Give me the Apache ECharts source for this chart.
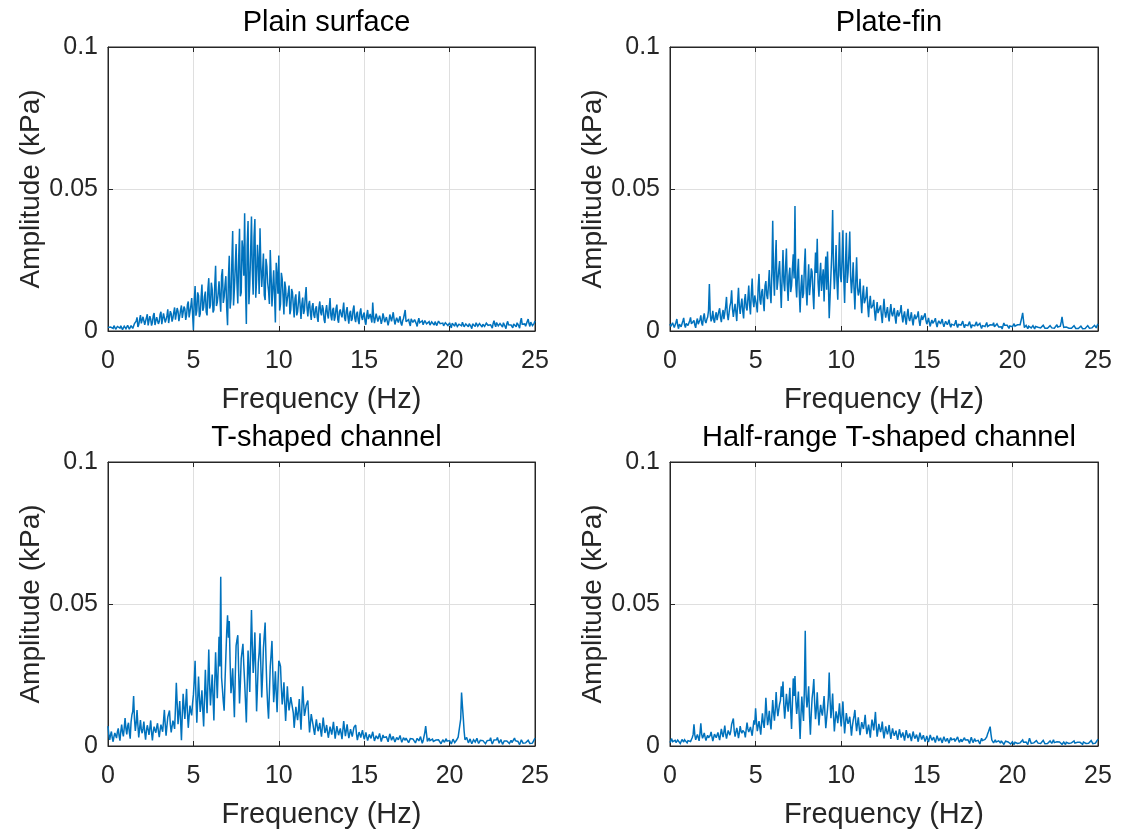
<!DOCTYPE html>
<html>
<head>
<meta charset="utf-8">
<title>Pressure amplitude spectra</title>
<script src="https://cdn.jsdelivr.net/npm/echarts@6/dist/echarts.min.js"></script>
<style>
  html, body { margin: 0; padding: 0; background: #fff; }
  #chart { width: 1121px; height: 834px; }
</style>
</head>
<body>
<div id="chart"></div>
<script>
// frequency grid: 0 .. 25 Hz. main arrays sit on 0, 0.1, 0.2 ... Hz,
// the *Mid arrays on the half steps 0.05, 0.15 ... Hz
var freqStep = 0.1;
var xTicks = [0, 5, 10, 15, 20, 25];
var yTicks = [0, 0.05, 0.1];
var panelTitles = ['Plain surface', 'Plate-fin', 'T-shaped channel', 'Half-range T-shaped channel'];

// amplitudes, in Pa (1 Pa = 0.001 kPa)
var plainSurface = [
  1.2, 0.6, 1.8, 0.9, 1.5, 0.7, 2.1, 1.0, 1.6, 0.8,
  2.2, 1.1, 1.7, 0.9, 2.4, 1.3, 2.0, 4.8, 2.2, 5.6,
  3.1, 4.4, 1.8, 5.9, 2.6, 4.2, 3.0, 6.3, 2.4, 5.1,
  3.3, 6.8, 2.9, 5.5, 4.0, 7.6, 3.2, 6.1, 4.5, 8.3,
  3.8, 6.9, 5.2, 9.0, 4.1, 7.8, 5.6, 10.4, 4.9, 11.6,
  0.4, 15.8, 7.2, 12.5, 6.0, 16.4, 8.3, 13.9, 5.5, 18.6,
  9.1, 14.7, 7.4, 23.0, 10.2, 17.5, 6.8, 21.8, 12.0, 19.3,
  2.0, 26.5, 11.4, 35.2, 14.8, 30.6, 9.7, 36.0, 13.5, 28.4,
  41.5, 2.5, 38.7, 16.2, 40.3, 12.8, 39.4, 18.0, 24.6, 36.2,
  15.5, 27.3, 10.9, 22.8, 14.1, 28.5, 8.6, 21.4, 3.0, 19.7,
  26.6, 9.4, 18.3, 5.8, 15.1, 11.2, 16.0, 7.5, 13.6, 4.8,
  12.9, 6.7, 14.0, 4.2, 11.8, 7.3, 15.5, 5.1, 10.6, 3.9,
  9.8, 4.6, 8.7, 3.2, 10.4, 5.5, 7.9, 2.8, 9.1, 4.4,
  11.6, 3.7, 8.2, 5.0, 9.3, 2.9, 7.6, 4.8, 10.0, 3.5,
  8.4, 2.6, 7.1, 4.3, 9.0, 3.1, 6.8, 2.4, 8.0, 3.9,
  6.5, 2.2, 7.4, 3.6, 5.9, 10.0, 2.8, 6.1, 3.3, 5.4,
  2.5, 6.2, 3.1, 4.9, 2.0, 5.8, 3.4, 6.6, 2.3, 4.7,
  3.0, 5.2, 1.9, 4.4, 7.4, 2.6, 4.0, 1.8, 5.0, 2.9,
  3.8, 1.6, 4.5, 2.4, 3.6, 1.5, 4.2, 2.7, 3.3, 1.4,
  3.9, 2.1, 3.0, 1.3, 4.1, 2.2, 2.8, 1.2, 3.5, 1.9,
  2.9, 1.1, 3.4, 1.7, 2.6, 0.9, 3.1, 1.8, 2.4, 1.0,
  3.2, 1.5, 2.7, 0.8, 3.0, 1.6, 2.3, 1.1, 3.3, 1.4,
  2.5, 0.9, 3.1, 1.7, 2.2, 1.0, 3.6, 1.5, 2.6, 1.2,
  3.0, 1.4, 2.4, 0.8, 3.4, 1.6, 2.1, 1.1, 3.2, 1.5,
  2.7, 1.0, 4.5, 1.8, 2.5, 1.2, 4.2, 1.6, 2.8, 1.3,
  3.5
];
var plainSurfaceMid = [
  0.5, 1.4, 0.7, 1.9, 0.6, 1.6, 0.9, 1.8, 0.5, 1.7,
  0.8, 2.0, 0.6, 1.9, 0.9, 2.6, 3.5, 1.4, 4.0, 2.7,
  5.0, 2.2, 4.7, 2.0, 5.2, 1.9, 5.4, 2.1, 4.9, 2.5,
  5.8, 2.4, 6.2, 3.0, 5.3, 2.8, 7.0, 3.3, 6.6, 4.0,
  8.1, 3.5, 7.4, 4.6, 8.6, 3.9, 9.2, 4.8, 8.8, 6.3,
  10.7, 5.4, 13.6, 4.9, 11.8, 7.1, 12.2, 6.7, 14.9, 7.9,
  17.0, 6.5, 15.9, 8.8, 13.2, 11.6, 19.4, 9.9, 16.1, 8.0,
  18.7, 7.9, 24.2, 9.0, 22.5, 16.8, 25.1, 12.2, 31.9, 19.5,
  15.8, 30.2, 9.4, 27.5, 21.3, 33.1, 11.7, 30.4, 13.0, 22.9,
  21.0, 12.6, 25.4, 16.8, 9.5, 19.2, 15.0, 12.8, 24.0, 13.1,
  7.2, 20.5, 12.0, 17.4, 8.6, 13.3, 5.9, 14.8, 8.9, 11.5,
  5.5, 10.2, 8.8, 9.5, 6.0, 12.1, 8.2, 9.3, 6.4, 8.6,
  5.7, 7.8, 4.9, 8.3, 6.6, 9.1, 4.0, 7.2, 5.9, 8.0,
  5.4, 7.4, 3.6, 7.9, 4.1, 6.8, 5.8, 7.3, 4.6, 6.9,
  4.8, 6.3, 3.5, 7.5, 4.4, 6.0, 3.7, 6.5, 4.9, 5.7,
  3.4, 5.6, 4.2, 6.0, 3.0, 5.1, 4.5, 5.8, 3.2, 4.3,
  3.9, 4.8, 2.7, 5.3, 3.5, 4.6, 2.8, 4.1, 3.6, 3.8,
  4.2, 2.8, 3.6, 5.1, 3.3, 3.9, 2.7, 4.3, 3.0, 4.0,
  2.6, 3.4, 2.9, 3.1, 2.2, 3.7, 2.5, 3.0, 2.1, 3.2,
  2.7, 3.3, 1.9, 3.5, 2.6, 3.1, 1.8, 2.9, 2.4, 2.6,
  1.9, 2.7, 2.2, 3.0, 1.6, 2.4, 2.2, 3.1, 1.5, 2.5,
  2.0, 2.6, 1.6, 2.5, 2.1, 2.9, 1.7, 2.6, 2.2, 2.4,
  1.6, 2.8, 2.0, 2.5, 1.5, 2.7, 2.3, 3.0, 1.8, 2.6,
  2.1, 2.9, 1.6, 2.6, 2.2, 2.8, 1.5, 2.5, 2.1, 2.9,
  1.8, 3.3, 2.4, 3.0, 1.7, 3.4, 2.6, 3.1, 1.9, 2.7
];

var plateFin = [
  2.5, 1.0, 3.6, 1.4, 4.2, 0.8, 3.0, 1.7, 4.6, 1.2,
  3.3, 1.5, 4.8, 2.0, 3.7, 1.1, 4.4, 2.3, 5.5, 1.9,
  6.2, 2.8, 4.9, 16.5, 3.4, 7.1, 2.9, 6.6, 4.0, 8.0,
  3.1, 7.4, 4.6, 12.0, 3.8, 8.8, 14.3, 5.0, 9.6, 3.5,
  15.2, 6.0, 11.4, 4.4, 13.0, 7.2, 16.0, 5.8, 18.5, 8.4,
  12.6, 6.5, 20.1, 9.3, 14.8, 7.0, 17.6, 11.2, 21.5, 9.8,
  38.8, 12.4, 32.0, 17.5, 24.6, 8.1, 28.5, 14.0, 29.0, 10.6,
  22.3, 15.9, 27.0, 44.0, 11.8, 25.4, 6.5, 19.8, 13.2, 29.0,
  9.0, 23.5, 16.4, 20.8, 7.7, 27.6, 32.5, 12.1, 24.0, 18.3,
  10.4, 26.2, 28.0, 4.5, 19.6, 42.6, 14.7, 30.3, 11.0, 34.8,
  17.2, 35.5, 9.9, 34.6, 20.5, 35.0, 13.3, 24.2, 7.6, 26.0,
  12.5, 18.4, 6.3, 16.0, 10.8, 15.6, 4.9, 12.4, 7.8, 11.0,
  3.6, 10.2, 5.9, 9.0, 2.8, 11.3, 4.7, 8.4, 3.4, 9.5,
  5.2, 8.1, 2.6, 7.3, 4.4, 9.1, 3.0, 6.9, 2.2, 7.8,
  3.5, 6.6, 2.0, 5.8, 3.9, 6.9, 1.8, 5.5, 3.2, 6.2,
  2.4, 4.6, 1.6, 3.9, 2.8, 4.5, 1.4, 3.6, 2.5, 4.2,
  1.5, 3.4, 2.2, 4.0, 1.3, 3.1, 2.0, 3.8, 1.2, 2.9,
  2.1, 3.5, 1.1, 2.8, 1.9, 3.3, 1.0, 2.6, 1.8, 3.2,
  1.2, 2.7, 0.9, 2.4, 1.6, 3.0, 1.0, 2.2, 1.5, 2.9,
  0.8, 2.5, 1.4, 2.1, 0.7, 2.8, 1.3, 2.0, 0.9, 2.4,
  1.5, 2.6, 1.0, 2.2, 1.8, 2.5, 6.4, 1.2, 2.0, 0.8,
  2.3, 1.1, 1.9, 0.7, 2.1, 1.3, 1.6, 0.6, 2.0, 1.0,
  1.5, 0.5, 1.9, 1.1, 1.4, 0.6, 2.2, 1.0, 1.7, 5.0,
  1.3, 0.7, 1.8, 1.0, 1.5, 0.5, 1.9, 0.9, 1.4, 0.6,
  1.7, 0.8, 1.3, 0.5, 1.9, 1.0, 1.5, 0.7, 2.0, 1.1,
  2.5
];
var plateFinMid = [
  1.6, 2.9, 1.2, 3.1, 2.0, 2.4, 1.5, 3.5, 2.2, 2.7,
  1.9, 3.6, 2.5, 3.0, 2.1, 3.3, 2.4, 4.0, 2.8, 4.7,
  3.6, 4.1, 7.2, 6.0, 4.5, 3.9, 5.3, 3.8, 6.9, 4.7,
  5.8, 4.2, 8.6, 5.9, 6.4, 10.1, 7.8, 7.3, 6.5, 9.9,
  8.7, 9.2, 7.0, 10.5, 8.3, 11.4, 9.0, 13.3, 10.6, 12.5,
  9.2, 15.4, 11.0, 13.7, 10.3, 15.9, 12.6, 16.3, 13.4, 20.7,
  19.6, 24.0, 14.5, 21.3, 15.8, 18.9, 17.2, 22.6, 16.3, 19.4,
  13.7, 21.9, 18.5, 16.4, 20.3, 13.9, 15.2, 11.6, 22.7, 15.0,
  17.1, 12.6, 22.0, 13.5, 18.9, 20.4, 17.0, 19.5, 14.1, 21.7,
  19.8, 14.5, 17.3, 12.0, 27.4, 23.1, 21.5, 17.8, 22.9, 19.6,
  25.1, 18.7, 23.0, 16.9, 26.8, 19.2, 18.0, 14.9, 17.5, 15.4,
  14.0, 11.3, 12.6, 9.8, 12.2, 8.7, 9.9, 8.0, 9.1, 6.8,
  7.4, 6.3, 8.1, 5.6, 7.5, 6.9, 6.7, 5.5, 7.0, 6.1,
  5.9, 4.8, 6.2, 5.1, 6.8, 5.3, 5.4, 4.1, 5.7, 4.6,
  5.0, 3.8, 4.6, 4.2, 5.3, 3.6, 4.0, 3.9, 4.5, 3.7,
  3.4, 2.9, 3.0, 2.7, 3.6, 2.6, 2.8, 2.9, 3.2, 2.5,
  2.6, 2.9, 3.0, 2.2, 2.4, 2.7, 2.8, 2.1, 2.3, 2.6,
  2.8, 2.0, 2.2, 2.4, 2.6, 1.9, 2.1, 2.3, 2.5, 1.8,
  2.0, 1.7, 1.9, 2.1, 2.2, 1.6, 1.8, 2.0, 2.1, 1.5,
  1.7, 1.9, 1.6, 1.5, 1.8, 2.0, 1.5, 1.4, 1.8, 1.9,
  2.0, 1.7, 1.6, 2.0, 2.2, 4.8, 3.6, 1.6, 1.3, 1.7,
  1.5, 1.4, 1.2, 1.6, 1.7, 1.3, 1.1, 1.5, 1.4, 1.2,
  1.0, 1.3, 1.5, 1.2, 1.0, 1.6, 1.4, 1.3, 3.2, 2.7,
  1.1, 1.4, 1.3, 1.2, 1.0, 1.4, 1.3, 1.1, 0.9, 1.2,
  1.2, 1.0, 0.9, 1.3, 1.4, 1.2, 1.1, 1.4, 1.5, 1.9
];

var tShaped = [
  7.0, 2.2, 5.1, 1.5, 4.6, 2.8, 6.2, 1.9, 7.5, 3.4,
  9.8, 4.1, 8.2, 2.6, 11.0, 17.6, 5.3, 12.7, 3.0, 9.1,
  4.5, 8.6, 2.2, 7.3, 3.9, 9.0, 2.0, 6.8, 4.7, 8.0,
  3.1, 7.5, 5.0, 12.7, 3.6, 10.2, 12.5, 4.8, 8.9, 6.0,
  22.3, 7.7, 15.8, 2.0, 18.4, 9.5, 20.1, 6.4, 14.2, 10.8,
  18.0, 30.0, 8.2, 24.5, 12.0, 19.6, 6.9, 26.8, 11.5, 34.0,
  14.3, 25.2, 9.0, 33.0, 16.8, 38.5, 59.6, 20.0, 12.4, 31.5,
  46.0, 44.0, 18.6, 27.4, 10.1, 35.3, 39.0, 15.0, 30.8, 36.0,
  22.5, 8.3, 33.6, 19.0, 47.9, 25.7, 40.0, 12.2, 29.4, 39.7,
  17.1, 34.5, 43.5, 20.8, 9.6, 28.0, 37.0, 15.4, 26.3, 11.9,
  30.0, 28.0, 14.6, 22.4, 8.8, 21.0, 12.5, 17.2, 17.6, 6.4,
  13.8, 9.1, 16.5, 5.7, 21.0, 10.6, 14.3, 16.0, 4.8, 11.2,
  7.6, 3.9, 9.4, 5.2, 8.1, 3.3, 10.0, 4.6, 7.4, 2.9,
  6.8, 4.0, 8.5, 2.6, 7.0, 3.8, 6.2, 2.4, 8.8, 3.5,
  7.6, 2.8, 5.9, 3.3, 6.6, 7.4, 2.1, 4.9, 3.0, 5.6,
  2.4, 4.8, 1.9, 4.1, 2.7, 5.0, 1.8, 3.6, 2.5, 4.4,
  1.6, 3.9, 2.3, 3.2, 1.5, 4.3, 2.0, 3.4, 1.4, 3.0,
  2.2, 3.7, 1.3, 2.9, 2.0, 3.5, 1.2, 2.6, 1.9, 3.1,
  1.1, 2.7, 1.8, 3.3, 1.0, 2.5, 7.0, 1.6, 2.8, 1.2,
  2.4, 0.9, 2.1, 1.5, 2.9, 0.8, 2.2, 1.3, 2.6, 1.0,
  1.9, 0.7, 2.4, 1.2, 2.0, 3.1, 2.6, 18.8, 10.0, 2.2,
  3.0, 1.1, 2.5, 0.8, 2.2, 1.4, 2.7, 0.9, 2.0, 1.3,
  2.6, 0.8, 1.9, 1.2, 2.9, 0.7, 2.1, 1.5, 3.0, 1.0,
  2.3, 0.6, 1.8, 1.1, 2.5, 0.9, 2.0, 0.7, 2.8, 1.2,
  1.6, 0.5, 2.2, 1.0, 1.7, 0.6, 2.0, 0.9, 1.5, 0.7,
  2.8
];
var tShapedMid = [
  3.8, 4.0, 2.9, 3.3, 4.1, 5.0, 3.6, 5.2, 4.9, 6.4,
  6.1, 7.0, 4.9, 8.4, 12.2, 9.6, 8.0, 7.4, 6.1, 5.8,
  6.2, 4.9, 5.4, 5.8, 6.3, 4.8, 5.1, 5.5, 6.6, 5.2,
  5.6, 6.2, 8.8, 7.7, 7.0, 9.9, 7.6, 6.9, 7.8, 13.4,
  15.0, 11.6, 8.9, 11.2, 13.5, 14.8, 12.0, 10.7, 12.1, 14.9,
  23.1, 17.4, 16.2, 17.5, 15.3, 12.7, 16.8, 18.0, 22.3, 21.6,
  19.8, 17.1, 22.4, 24.5, 27.0, 28.0, 24.0, 15.7, 22.6, 40.2,
  38.1, 29.5, 22.1, 18.3, 24.2, 37.4, 26.3, 22.0, 33.4, 28.5,
  15.7, 21.0, 26.5, 33.8, 35.2, 31.4, 25.3, 20.6, 33.0, 27.9,
  24.6, 39.0, 30.7, 14.2, 18.8, 32.3, 25.8, 20.0, 18.5, 21.3,
  29.2, 20.4, 18.1, 15.0, 14.6, 16.0, 14.9, 17.4, 11.6, 10.0,
  11.2, 12.5, 10.8, 13.4, 15.6, 12.2, 15.0, 10.1, 8.0, 9.4,
  5.6, 7.1, 7.0, 6.5, 5.4, 6.8, 7.1, 5.7, 5.0, 4.8,
  5.5, 6.2, 5.4, 4.9, 5.3, 5.0, 4.4, 5.6, 6.0, 5.4,
  5.0, 4.3, 4.6, 5.0, 7.0, 4.2, 3.6, 4.0, 4.4, 3.8,
  3.5, 3.2, 3.0, 3.4, 3.9, 3.3, 2.7, 3.1, 3.4, 2.9,
  2.7, 3.0, 2.8, 2.4, 2.9, 3.2, 2.6, 2.3, 2.2, 2.7,
  2.9, 2.4, 2.1, 2.5, 2.8, 2.2, 1.9, 2.3, 2.5, 2.0,
  1.9, 2.2, 2.5, 2.0, 1.8, 4.8, 4.2, 2.1, 1.9, 1.8,
  1.6, 1.5, 1.8, 2.2, 1.7, 1.5, 1.8, 2.0, 1.7, 1.4,
  1.3, 1.6, 1.8, 1.5, 2.4, 2.8, 9.5, 14.2, 5.3, 2.6,
  2.0, 1.8, 1.6, 1.5, 1.9, 2.0, 1.7, 1.4, 1.6, 1.9,
  1.6, 1.4, 1.5, 2.0, 1.6, 1.3, 1.8, 2.2, 1.9, 1.6,
  1.4, 1.2, 1.5, 1.8, 1.6, 1.4, 1.2, 1.7, 1.9, 1.3,
  1.0, 1.3, 1.6, 1.2, 1.1, 1.3, 1.4, 1.2, 1.0, 1.6
];

var halfRangeTShaped = [
  1.2, 2.6, 0.8, 2.0, 1.5, 2.8, 0.9, 2.3, 1.4, 2.9,
  1.1, 2.5, 1.6, 3.0, 7.6, 2.2, 4.1, 1.8, 8.0, 2.7,
  4.6, 1.9, 3.8, 2.4, 5.0, 1.7, 4.2, 2.9, 4.8, 2.1,
  6.0, 3.1, 7.2, 2.6, 5.5, 3.8, 7.6, 9.7, 3.3, 6.4,
  2.8, 7.0, 4.5, 6.1, 3.0, 8.2, 4.9, 6.7, 3.6, 9.0,
  13.3, 5.2, 8.8, 4.0, 11.5, 6.4, 17.0, 7.3, 12.4, 5.8,
  16.2, 8.9, 19.0, 10.5, 14.7, 21.0, 22.7, 9.6, 18.4, 12.1,
  20.5, 6.0, 23.8, 24.6, 11.3, 19.2, 2.5, 17.4, 8.8, 40.6,
  13.6, 21.0, 4.0, 16.8, 23.6, 9.4, 18.9, 7.2, 14.5, 10.7,
  17.6, 6.3, 13.0, 25.9, 9.8, 18.5, 5.1, 12.2, 8.0, 15.0,
  6.9, 15.7, 4.4, 11.6, 7.8, 10.3, 3.6, 9.0, 12.7, 5.2,
  10.1, 3.8, 8.4, 6.0, 11.0, 4.2, 7.5, 2.9, 9.3, 5.5,
  12.0, 3.3, 7.8, 4.9, 8.6, 2.7, 6.9, 4.1, 7.4, 2.5,
  6.2, 3.6, 5.4, 2.2, 5.9, 3.0, 4.8, 1.9, 5.6, 2.8,
  4.4, 1.7, 5.1, 2.6, 4.0, 1.5, 4.7, 2.3, 3.8, 1.6,
  3.5, 1.4, 3.9, 2.0, 3.1, 1.2, 3.6, 1.8, 2.9, 1.1,
  3.3, 1.6, 2.7, 1.0, 3.0, 1.5, 2.5, 0.9, 3.2, 1.3,
  2.4, 0.8, 2.9, 1.4, 2.2, 0.9, 3.1, 1.2, 2.6, 1.0,
  2.0, 0.7, 2.7, 1.3, 2.3, 3.2, 5.0, 6.8, 2.1, 1.1,
  2.2, 0.8, 1.8, 1.0, 2.4, 0.6, 1.7, 1.1, 2.0, 0.7,
  1.5, 0.5, 1.9, 0.9, 1.6, 0.6, 2.1, 0.8, 1.4, 0.5,
  2.7, 0.9, 1.6, 0.6, 1.9, 1.0, 1.5, 0.5, 2.0, 0.8,
  1.3, 0.6, 1.8, 0.9, 2.2, 0.5, 1.5, 0.8, 1.9, 0.6,
  1.4, 0.5, 2.0, 0.9, 1.6, 0.7, 1.8, 0.5, 1.3, 0.8,
  1.7, 0.6, 2.1, 0.9, 1.5, 0.5, 1.9, 0.8, 1.4, 0.6,
  2.4
];
var halfRangeTShapedMid = [
  1.8, 1.5, 1.6, 1.2, 2.1, 1.7, 1.4, 1.9, 2.2, 1.6,
  1.9, 1.3, 2.2, 4.0, 3.9, 2.9, 3.0, 4.4, 4.2, 3.5,
  3.1, 3.0, 2.9, 3.7, 3.3, 3.0, 3.6, 3.5, 3.2, 4.1,
  4.4, 5.0, 4.3, 4.1, 4.6, 5.2, 7.0, 5.4, 4.8, 4.9,
  4.6, 5.3, 5.5, 4.7, 5.8, 6.0, 5.6, 5.1, 6.3, 7.5,
  8.6, 7.1, 6.4, 8.0, 8.3, 10.2, 11.6, 9.4, 8.5, 10.9,
  11.8, 13.0, 13.5, 12.7, 16.0, 17.3, 14.4, 13.9, 15.0, 15.8,
  12.4, 15.1, 17.6, 16.0, 14.9, 9.7, 11.0, 12.5, 20.2, 18.0,
  16.7, 10.6, 11.2, 19.5, 15.1, 13.0, 12.3, 11.6, 12.0, 13.8,
  11.5, 9.7, 17.0, 16.2, 13.6, 10.9, 9.0, 10.4, 11.3, 10.2,
  11.0, 9.5, 8.1, 9.4, 8.9, 7.1, 6.8, 10.6, 8.4, 7.9,
  6.6, 6.3, 7.1, 8.2, 7.0, 5.9, 5.4, 6.5, 7.6, 8.5,
  6.9, 5.4, 6.2, 6.3, 5.0, 4.9, 5.4, 5.5, 4.8, 4.5,
  4.7, 4.3, 3.7, 4.0, 4.4, 3.9, 3.4, 3.8, 4.1, 3.5,
  3.0, 3.5, 3.7, 3.2, 2.8, 3.2, 3.4, 3.0, 2.6, 2.5,
  2.4, 2.7, 2.9, 2.4, 2.1, 2.5, 2.6, 2.2, 1.9, 2.3,
  2.4, 2.0, 1.8, 2.1, 2.2, 1.9, 1.6, 2.2, 2.1, 1.7,
  1.5, 2.0, 2.1, 1.7, 1.5, 2.1, 2.0, 1.8, 1.7, 1.5,
  1.4, 1.8, 1.9, 1.9, 2.8, 4.2, 5.9, 4.1, 1.5, 1.6,
  1.4, 1.3, 1.3, 1.8, 1.4, 1.1, 1.5, 1.4, 1.2, 1.1,
  1.0, 1.3, 1.4, 1.2, 1.1, 1.5, 1.3, 1.0, 0.9, 1.7,
  1.8, 1.2, 1.1, 1.3, 1.4, 1.2, 0.9, 1.3, 1.4, 1.0,
  0.9, 1.3, 1.4, 1.6, 1.2, 1.0, 1.3, 1.4, 1.1, 1.0,
  0.9, 1.3, 1.5, 1.2, 1.1, 1.3, 1.0, 0.9, 1.1, 1.3,
  1.2, 1.4, 1.5, 1.1, 1.0, 1.3, 1.4, 1.0, 1.0, 1.6
];

var spectra = [
  [plainSurface, plainSurfaceMid],
  [plateFin, plateFinMid],
  [tShaped, tShapedMid],
  [halfRangeTShaped, halfRangeTShapedMid]
];

var fontFamily = '"Liberation Sans", Arial, Helvetica, sans-serif';
var axisColor = '#262626';
var gridColor = '#dfdfdf';
var lineColor = '#0072BD';

// panel boxes in px
var panels = [
  {left: 108, top: 47, width: 427, height: 284},
  {left: 670, top: 47, width: 428, height: 284},
  {left: 108, top: 462, width: 427, height: 284},
  {left: 670, top: 462, width: 428, height: 284}
];

var grids = [], xAxes = [], yAxes = [], series = [], titles = [];

panels.forEach(function (p, i) {
  grids.push({left: p.left, top: p.top, width: p.width, height: p.height,
    show: true, borderColor: axisColor, borderWidth: 1});

  titles.push({
    text: panelTitles[i],
    left: p.left + p.width / 2,
    top: p.top - 44,
    textAlign: 'center',
    textStyle: {fontSize: 29, fontWeight: 'normal', color: '#000', fontFamily: fontFamily}
  });

  // bottom axis with labels, top axis only for the mirrored ticks
  xAxes.push({
    type: 'value', gridIndex: i, position: 'bottom',
    min: xTicks[0], max: xTicks[xTicks.length - 1], interval: xTicks[1] - xTicks[0],
    name: 'Frequency (Hz)', nameLocation: 'middle', nameGap: 54,
    nameTextStyle: {fontSize: 29, color: axisColor, fontFamily: fontFamily},
    axisLine: {show: true, onZero: false, lineStyle: {color: axisColor, width: 1}},
    axisTick: {show: true, inside: true, length: 5, lineStyle: {color: axisColor}},
    axisLabel: {fontSize: 25, color: axisColor, margin: 18, fontFamily: fontFamily},
    splitLine: {show: true, lineStyle: {color: gridColor, width: 1}}
  });
  xAxes.push({
    type: 'value', gridIndex: i, position: 'top',
    min: xTicks[0], max: xTicks[xTicks.length - 1], interval: xTicks[1] - xTicks[0],
    axisLine: {show: true, onZero: false, lineStyle: {color: axisColor, width: 1}},
    axisTick: {show: true, inside: true, length: 5, lineStyle: {color: axisColor}},
    axisLabel: {show: false},
    splitLine: {show: false}
  });

  yAxes.push({
    type: 'value', gridIndex: i, position: 'left',
    min: yTicks[0], max: yTicks[yTicks.length - 1], interval: yTicks[1] - yTicks[0],
    name: 'Amplitude (kPa)', nameLocation: 'middle', nameGap: 61,
    nameTextStyle: {fontSize: 28, color: axisColor, fontFamily: fontFamily},
    axisLine: {show: true, onZero: false, lineStyle: {color: axisColor, width: 1}},
    axisTick: {show: true, inside: true, length: 5, lineStyle: {color: axisColor}},
    axisLabel: {fontSize: 25, color: axisColor, margin: 10, fontFamily: fontFamily},
    splitLine: {show: true, lineStyle: {color: gridColor, width: 1}}
  });
  yAxes.push({
    type: 'value', gridIndex: i, position: 'right',
    min: yTicks[0], max: yTicks[yTicks.length - 1], interval: yTicks[1] - yTicks[0],
    axisLine: {show: true, onZero: false, lineStyle: {color: axisColor, width: 1}},
    axisTick: {show: true, inside: true, length: 5, lineStyle: {color: axisColor}},
    axisLabel: {show: false},
    splitLine: {show: false}
  });

  // interleave full and half steps, Pa -> kPa
  var main = spectra[i][0], mid = spectra[i][1];
  var data = [];
  main.forEach(function (v, k) {
    data.push([+(k * freqStep).toFixed(2), v / 1000]);
    if (k < mid.length) {
      data.push([+((k + 0.5) * freqStep).toFixed(2), mid[k] / 1000]);
    }
  });

  series.push({
    type: 'line', xAxisIndex: 2 * i, yAxisIndex: 2 * i,
    data: data, showSymbol: false, symbol: 'none',
    lineStyle: {color: lineColor, width: 1.5, join: 'miter', miterLimit: 2},
    clip: true, silent: true
  });
});

var chart = echarts.init(document.getElementById('chart'));
chart.setOption({
  animation: false,
  backgroundColor: '#fff',
  title: titles,
  grid: grids,
  xAxis: xAxes,
  yAxis: yAxes,
  series: series
});
</script>
</body>
</html>
